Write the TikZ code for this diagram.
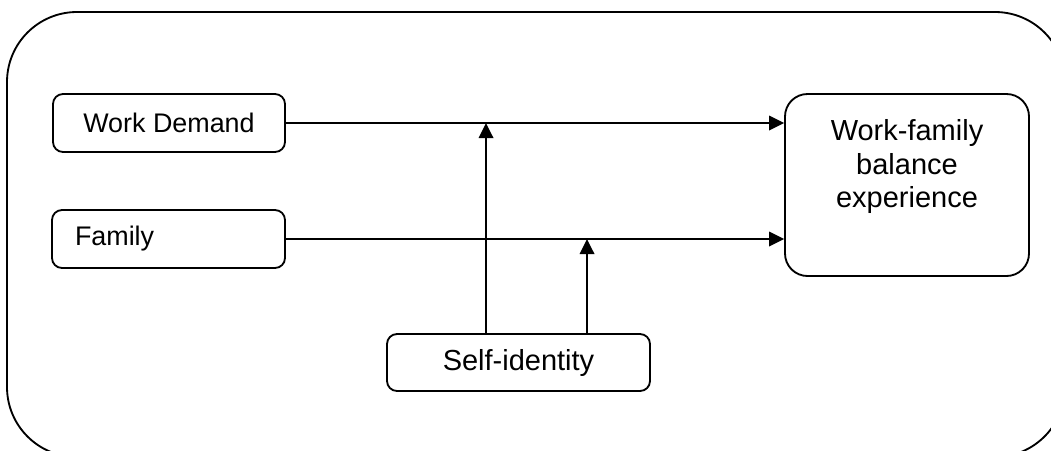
\documentclass[tikz,border=0pt]{standalone}
\usepackage{fontspec}
\setmainfont{Liberation Sans}
\usetikzlibrary{arrows.meta,positioning}
\tikzset{
  >=Stealth,
  box/.style={rectangle, draw, rounded corners=0.2cm, line width=1.05pt, minimum height=1.16cm, inner sep=0pt},
  bigbox/.style={rectangle, draw, rounded corners=0.45cm, line width=1.05pt, minimum width=4.88cm, minimum height=3.64cm},
  tr/.style={-{Triangle[length=0.3cm,width=0.29cm]}, line width=1.05pt},
  lbl/.style={font=\fontsize{15.3}{17.6}\selectfont},
  big/.style={font=\fontsize{16.5}{18.9}\selectfont}
}
\begin{document}
\begin{tikzpicture}[node distance=2.32cm]
\useasboundingbox (0,0) rectangle (21.02,-9.0);
\clip (0,0) rectangle (21.02,-9.0);
\draw[line width=1.05pt, rounded corners=1.4cm] (0.14,-0.24) rectangle (21.3,-9.14);

\node (wd) [box, lbl, minimum width=4.64cm] at (3.38,-2.46) {Work Demand};
\node (fam) [box, lbl, text width=3.74cm, align=left, minimum width=4.66cm, below of=wd, xshift=-0.01cm] {Family};
\node (si) [box, big, minimum width=5.26cm, minimum height=1.14cm] at (10.37,-7.25) {Self-identity};
\node (wfb) [bigbox, label={[big, align=center, anchor=north, inner sep=0pt, yshift=-0.53cm]north:Work-family\\balance\\experience}] at (18.14,-3.70) {};

\coordinate (m1) at (9.72,-2.46);
\coordinate (m2) at (11.74,-4.78);

\draw[tr] (wd.east) -- (wd.east -| wfb.west);
\draw[tr] (fam.east) -- (fam.east -| wfb.west);
\draw[tr] (si.north -| m1) -- (m1);
\draw[tr] (si.north -| m2) -- (m2);

\end{tikzpicture}
\end{document}
